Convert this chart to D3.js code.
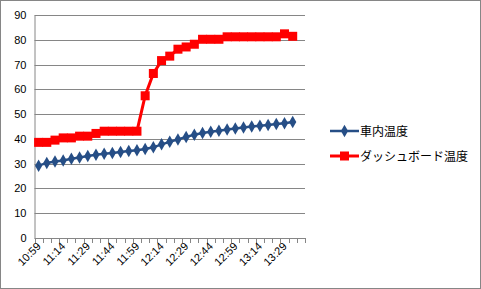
<!DOCTYPE html>
<html>
<head>
<meta charset="utf-8">
<script src="https://cdn.jsdelivr.net/npm/d3@7"></script>
<style>
  body { margin: 0; background: #fff; }
  text { font-family: "Liberation Sans", "Noto Sans CJK JP", sans-serif; }
</style>
</head>
<body>
<div id="chart"></div>
<script>
// data
var times = ['10:59','11:04','11:09','11:14','11:19','11:24','11:29','11:34','11:39','11:44','11:49',
             '11:54','11:59','12:04','12:09','12:14','12:19','12:24','12:29','12:34','12:39','12:44',
             '12:49','12:54','12:59','13:04','13:09','13:14','13:19','13:24','13:29','13:34','13:39'];
var carTemp  = [29.2, 30.3, 30.9, 31.3, 32, 32.5, 33.1, 33.6, 34, 34.3, 34.7,
                35.1, 35.4, 35.9, 36.6, 37.8, 38.8, 39.8, 40.8, 41.7, 42.4, 42.9,
                43.3, 43.8, 44.2, 44.6, 45, 45.3, 45.6, 46, 46.3, 46.8, null];
var dashTemp = [38.6, 38.6, 39.5, 40.4, 40.4, 41.1, 41.1, 42.2, 43.1, 43.1, 43.1,
                43.1, 43.1, 57.4, 66.4, 71.6, 73.4, 76.2, 77.1, 78.2, 80.2, 80.2,
                80.2, 81.2, 81.2, 81.2, 81.2, 81.2, 81.2, 81.2, 82.4, 81.4, null];
var seriesNames = ['車内温度', 'ダッシュボード温度'];
var yTicks = [0, 10, 20, 30, 40, 50, 60, 70, 80, 90];

const W = 481, H = 289;
var margin = {top: 15, right: 176, bottom: 51, left: 34.5};

var svg = d3.select('#chart').append('svg')
            .attr('width', W)
            .attr('height', H);

// outer border
svg.append('rect')
   .attr('x', 0.5).attr('y', 0.5)
   .attr('width', W - 1).attr('height', H - 1)
   .attr('fill', '#fff')
   .attr('stroke', '#868686');

var x = d3.scaleBand()
          .domain(times)
          .range([margin.left, W - margin.right]);

var y = d3.scaleLinear()
          .domain([0, 90])
          .range([H - margin.bottom, margin.top]);

// gridlines
svg.append('g')
   .selectAll('line')
   .data(yTicks.slice(1))
   .enter()
   .append('line')
   .attr('x1', margin.left).attr('x2', W - margin.right)
   .attr('y1', d => Math.round(y(d)) + 0.5)
   .attr('y2', d => Math.round(y(d)) + 0.5)
   .attr('stroke', '#868686');

// y axis
var yAxis = svg.append('g')
               .attr('transform', `translate(${margin.left},0)`)
               .call(d3.axisLeft(y).tickValues(yTicks).tickSize(0).tickPadding(8));
yAxis.select('.domain').attr('stroke', '#868686');
yAxis.selectAll('text').attr('font-size', 11).attr('fill', '#000')
     .style('font-family', '"Liberation Sans", sans-serif');

// x axis with ticks between categories
var xg = svg.append('g')
            .attr('transform', `translate(0,${y(0)})`);
xg.append('line')
  .attr('x1', margin.left).attr('x2', W - margin.right)
  .attr('y1', 0.5).attr('y2', 0.5)
  .attr('stroke', '#868686');
var tickPos = times.map(t => x(t)).concat([x(times[times.length - 1]) + x.bandwidth()]);
xg.selectAll('.tk')
  .data(tickPos)
  .enter()
  .append('line')
  .attr('class', 'tk')
  .attr('x1', d => Math.round(d) + 0.5).attr('x2', d => Math.round(d) + 0.5)
  .attr('y1', 0).attr('y2', 5)
  .attr('stroke', '#868686');
xg.selectAll('.lbl')
  .data(times.filter((d, i) => i % 3 === 0))
  .enter()
  .append('text')
  .attr('class', 'lbl')
  .attr('transform', d => `translate(${x(d) + x.bandwidth() / 2 + 3},${9}) rotate(-45)`)
  .attr('text-anchor', 'end')
  .attr('font-size', 11)
  .attr('fill', '#000')
  .text(d => d);

var cx = d => x(d) + x.bandwidth() / 2;
var line = d3.line()
             .defined(d => d.v !== null)
             .x(d => cx(d.t))
             .y(d => y(d.v));

var blue = '#264E86', red = '#FF0000';
var carData = times.map((t, i) => ({t: t, v: carTemp[i]}));
var dashData = times.map((t, i) => ({t: t, v: dashTemp[i]}));

// dashboard series
svg.append('path')
   .datum(dashData)
   .attr('d', line)
   .attr('fill', 'none')
   .attr('stroke', red)
   .attr('stroke-width', 3);
svg.append('g').selectAll('rect')
   .data(dashData.filter(d => d.v !== null))
   .enter()
   .append('rect')
   .attr('x', d => cx(d.t) - 4.5)
   .attr('y', d => y(d.v) - 4.5)
   .attr('width', 9).attr('height', 9)
   .attr('fill', red);

// car series
svg.append('path')
   .datum(carData)
   .attr('d', line)
   .attr('fill', 'none')
   .attr('stroke', blue)
   .attr('stroke-width', 2.5);
var diamond = d3.symbol().type(d3.symbolDiamond).size(45);
svg.append('g').selectAll('path')
   .data(carData.filter(d => d.v !== null))
   .enter()
   .append('path')
   .attr('d', diamond)
   .attr('transform', d => `translate(${cx(d.t)},${y(d.v)})`)
   .attr('fill', blue);

// legend
var legend = svg.append('g').attr('transform', 'translate(330,131)');
var items = legend.selectAll('g')
                  .data(seriesNames)
                  .enter()
                  .append('g')
                  .attr('transform', (d, i) => `translate(0,${i * 25})`);
items.append('line')
     .attr('x1', 0).attr('x2', 29)
     .attr('y1', 0).attr('y2', 0)
     .attr('stroke', (d, i) => i === 0 ? blue : red)
     .attr('stroke-width', (d, i) => i === 0 ? 2.5 : 3);
items.filter((d, i) => i === 0)
     .append('path')
     .attr('d', diamond)
     .attr('transform', 'translate(14.5,0)')
     .attr('fill', blue);
items.filter((d, i) => i === 1)
     .append('rect')
     .attr('x', 10).attr('y', -4.5)
     .attr('width', 9).attr('height', 9)
     .attr('fill', red);
items.append('text')
     .attr('x', 30)
     .attr('y', 4.5)
     .attr('font-size', 12)
     .attr('fill', '#000')
     .style('font-family', '"Noto Sans CJK JP", sans-serif')
     .text(d => d);
</script>
</body>
</html>
